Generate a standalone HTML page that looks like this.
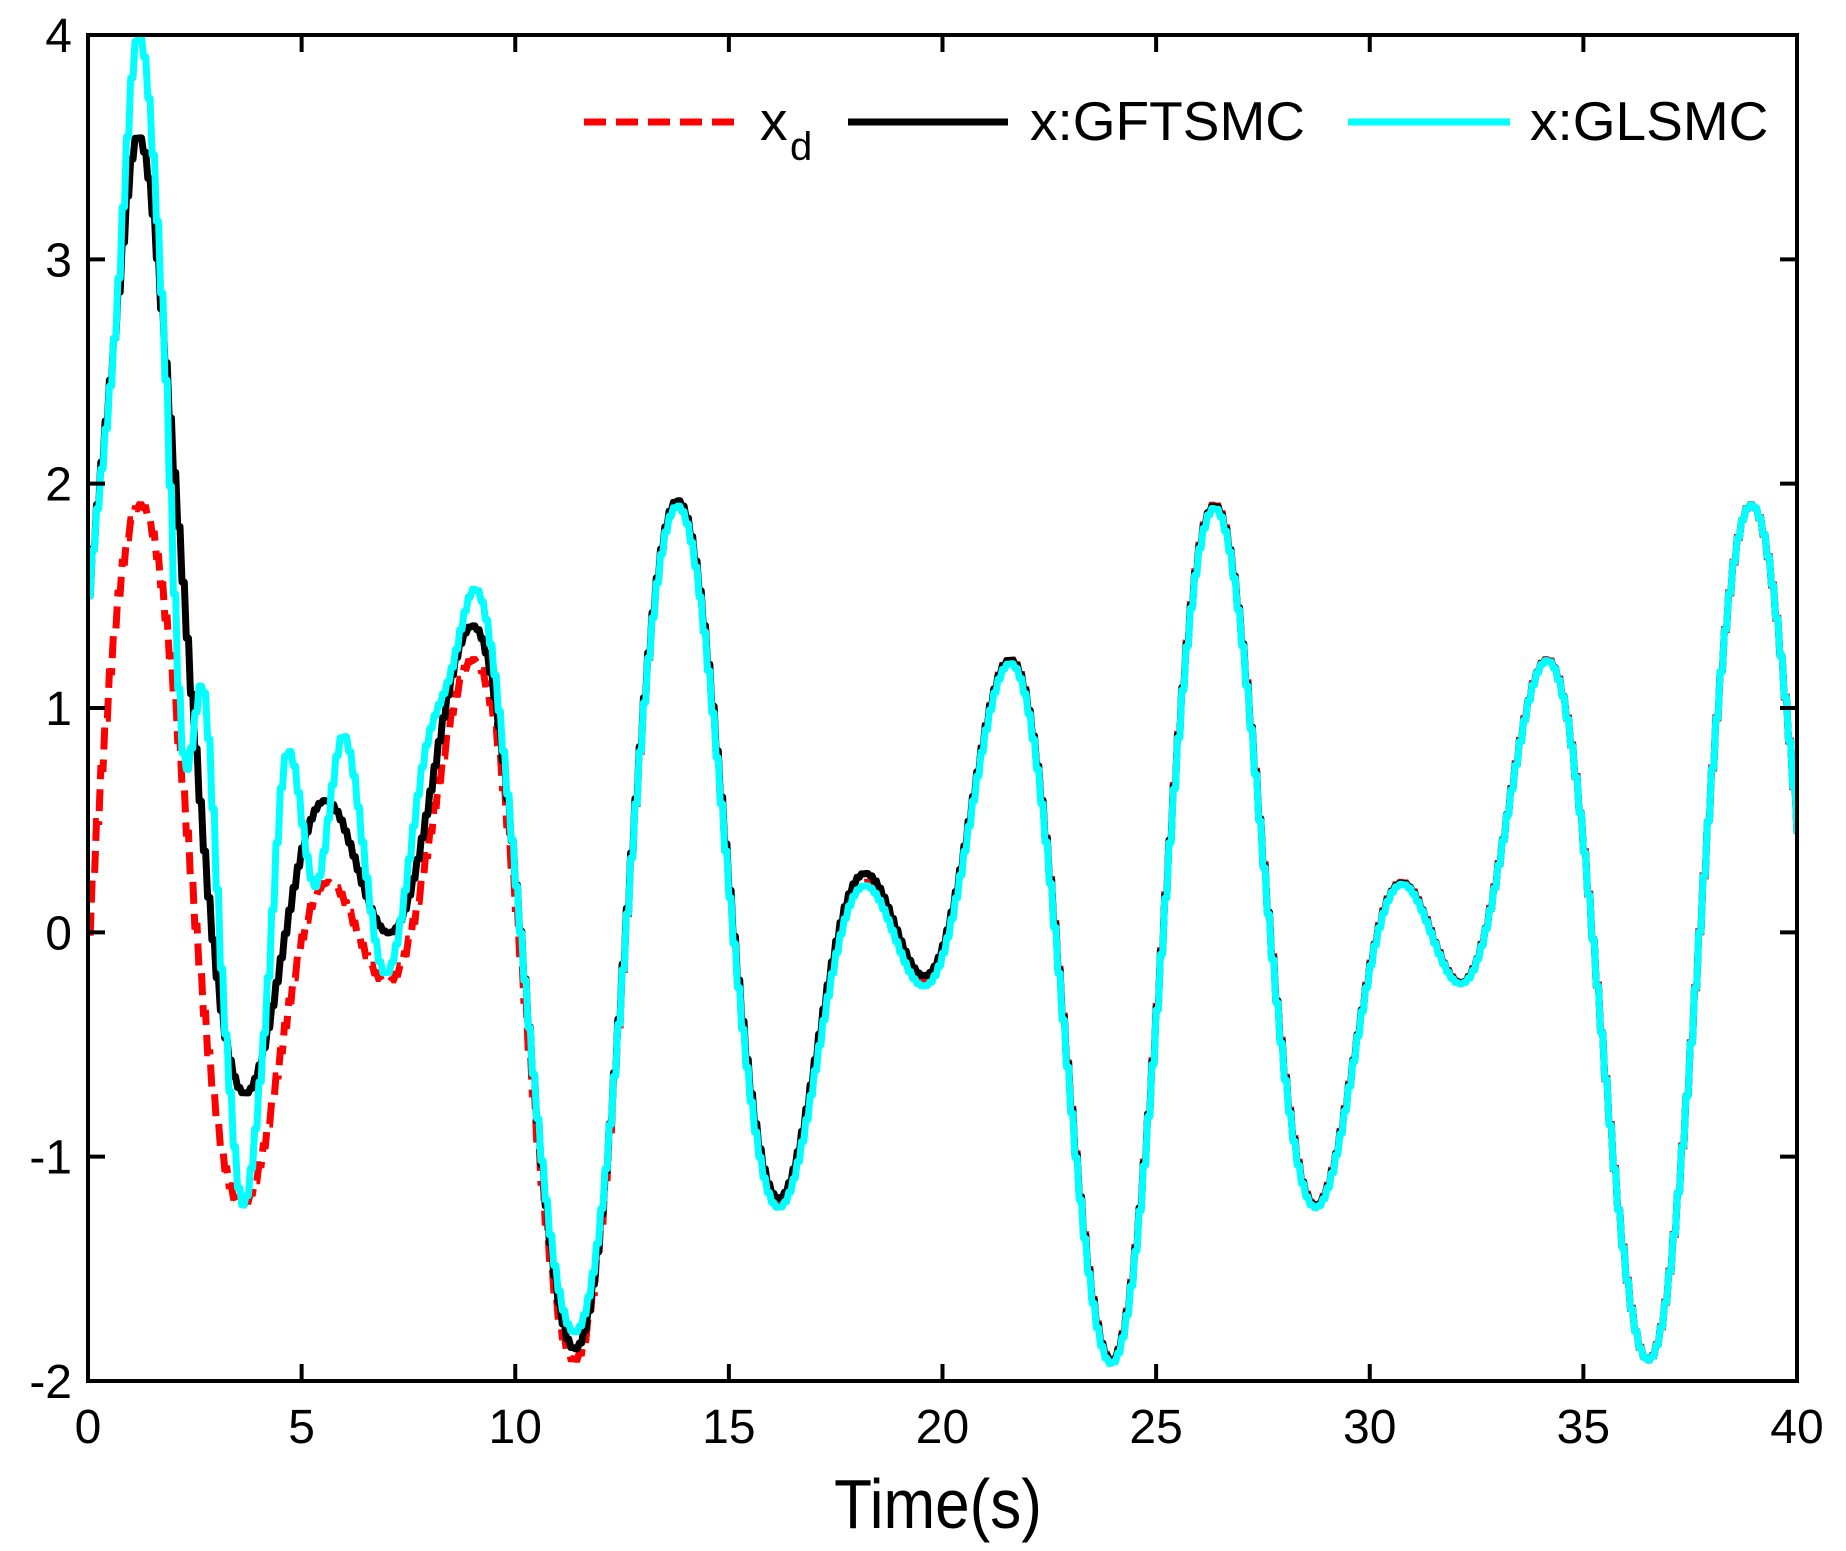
<!DOCTYPE html>
<html><head><meta charset="utf-8"><style>
html,body{margin:0;padding:0;background:#fff;}
svg{display:block;font-family:"Liberation Sans",Arial,sans-serif;}
</style></head><body>
<svg id="s" width="1846" height="1551" xmlns="http://www.w3.org/2000/svg">
<rect width="1846" height="1551" fill="#fff"/>
<defs><clipPath id="c"><rect x="88" y="33" width="1711" height="1350"/></clipPath></defs>
<g id="series" clip-path="url(#c)"></g>
<rect x="88" y="35" width="1709" height="1346" fill="none" stroke="#000" stroke-width="4"/>
<g id="ticks" stroke="#000" stroke-width="4"></g>
<g id="labels" font-size="48" fill="#000"></g>
<text x="938" y="1528" font-size="62" text-anchor="middle" transform="translate(0,1528) scale(1,1.12) translate(0,-1528)">Time(s)</text>
<g font-size="55" fill="#000">
<line x1="584" y1="122" x2="741" y2="122" stroke="#f00" stroke-width="7" stroke-dasharray="22,10"/>
<text x="760" y="140">x</text><text x="790" y="160" font-size="40">d</text>
<line x1="848" y1="122" x2="1008" y2="122" stroke="#000" stroke-width="7"/>
<text x="1030" y="140">x:GFTSMC</text>
<line x1="1348" y1="122" x2="1510" y2="122" stroke="#0ff" stroke-width="7"/>
<text x="1530" y="140">x:GLSMC</text>
</g>
</svg>
<script>
var L=88,R=1797,T=35,B=1381;
function X(t){return L+(R-L)*t/40;}
function Y(v){return B-(B-T)*(v+2)/6;}
var ns="http://www.w3.org/2000/svg";
function el(p,n,a,txt){var e=document.createElementNS(ns,n);for(var k in a)e.setAttribute(k,a[k]);if(txt!=null)e.textContent=txt;document.getElementById(p).appendChild(e);return e;}
for(var i=0;i<=8;i++){var x=X(i*5);
 el("ticks","line",{x1:x,y1:B,x2:x,y2:B-17});el("ticks","line",{x1:x,y1:T,x2:x,y2:T+17});
 el("labels","text",{x:x,y:1443,"text-anchor":"middle"},String(i*5));}
for(var v=-2;v<=4;v++){var y=Y(v);
 el("ticks","line",{x1:L,y1:y,x2:L+17,y2:y});el("ticks","line",{x1:R,y1:y,x2:R-17,y2:y});
 el("labels","text",{x:72,y:y+17,"text-anchor":"end"},String(v));}
function xd(t){return Math.sin(t)+Math.sin(1.5*t);}
function interp(pts,t){
 if(t>=pts[pts.length-1][0])return pts[pts.length-1][1];
 for(var i=0;i<pts.length-1;i++){if(t<=pts[i+1][0]){
  var p0=pts[Math.max(i-1,0)],p1=pts[i],p2=pts[i+1],p3=pts[Math.min(i+2,pts.length-1)];
  var u=(t-p1[0])/(p2[0]-p1[0]);
  var m1=(p2[1]-p0[1])/(p2[0]-p0[0]||1)*(p2[0]-p1[0]);
  var m2=(p3[1]-p1[1])/(p3[0]-p1[0]||1)*(p2[0]-p1[0]);
  var u2=u*u,u3=u2*u;
  return (2*u3-3*u2+1)*p1[1]+(u3-2*u2+u)*m1+(-2*u3+3*u2)*p2[1]+(u3-u2)*m2;}}
}
var eG=[[0,1.5],[0.6,1.3],[1.15,1.65],[2,1.0],[3.6,0.5],[5.5,0.37],[7,0.22],[9,0.15],[11.3,0.05],[13,0.02],[16.2,0.03],[18,0.04],[19.5,0.03],[21,0],[40,0]];
var eL=[[0,1.5],[0.6,1.3],[1.15,2.1],[1.7,1.3],[2.2,0.15],[2.7,1.43],[3.2,0.6],[3.6,0],[4.1,0.5],[4.6,1.2],[5.3,0.04],[6.0,0.74],[6.9,0.04],[7.8,0.5],[8.5,0.2],[9.1,0.32],[10,0.1],[11.5,0.12],[12.5,0],[40,0]];
function path(f){var d="",dt=0.1,prev=null;
 for(var k=0;k<=400;k++){var t=k*dt,x=X(t),y=Y(f(t));
  if(prev===null)d+="M"+x.toFixed(1)+" "+y.toFixed(1);
  else d+=" H"+(x-2).toFixed(1)+" L"+(x).toFixed(1)+" "+y.toFixed(1);prev=y;}
 return d;}
el("series","path",{d:path(xd),fill:"none",stroke:"#f00","stroke-width":7,"stroke-dasharray":"22,10"});
el("series","path",{d:path(function(t){return xd(t)+interp(eG,t);}),fill:"none",stroke:"#000","stroke-width":7,"stroke-linejoin":"round"});
el("series","path",{d:path(function(t){return xd(t)+interp(eL,t);}),fill:"none",stroke:"#0ff","stroke-width":7,"stroke-linejoin":"round"});
</script>
</body></html>
